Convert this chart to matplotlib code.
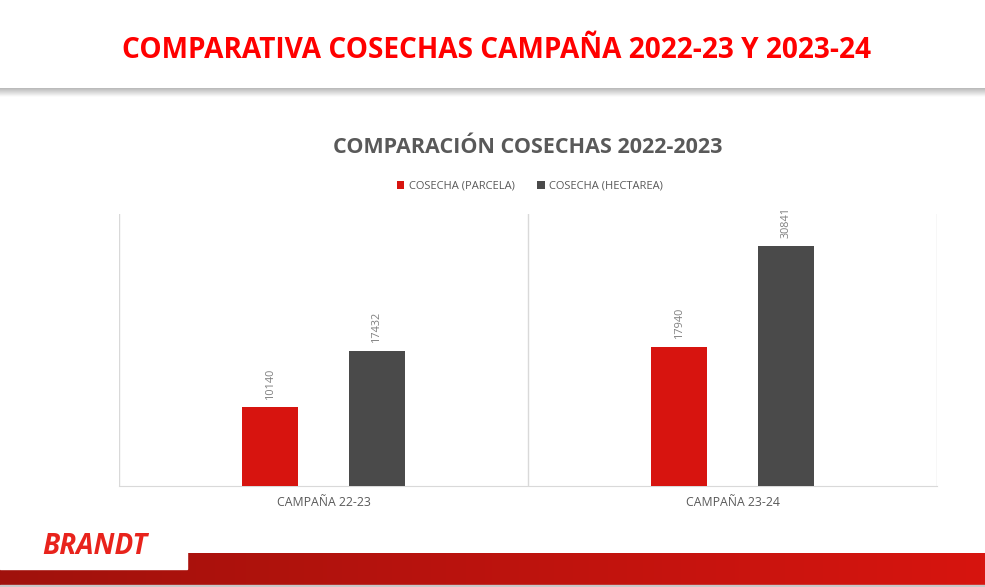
"""
Comparativa de cosechas por campaña (barras agrupadas)
"""
import numpy as np
import matplotlib.pyplot as plt
from matplotlib import font_manager

plt.rcParams["font.family"] = ["Open Sans", "DejaVu Sans"]

# datos
campanas = ["CAMPAÑA 22-23", "CAMPAÑA 23-24"]
series = ["COSECHA (PARCELA)", "COSECHA (HECTAREA)"]
cosecha_parcela = [10140, 17940]
cosecha_hectarea = [17432, 30841]

titulo_slide = "COMPARATIVA COSECHAS CAMPAÑA 2022-23 Y 2023-24"
titulo_grafico = "COMPARACIÓN COSECHAS 2022-2023"

ROJO = "#d7140f"
GRIS = "#4a4a4a"
TEXTO = "#595959"

names = {f.name for f in font_manager.fontManager.ttflist}
narrow = "Liberation Sans Narrow" if "Liberation Sans Narrow" in names else "Open Sans"


def draw_chart():
    fig = plt.figure(figsize=(9.85, 5.87), dpi=100)

    # fondo de la diapositiva (cabecera con sombra y franja inferior)
    bg = fig.add_axes([0, 0, 1, 1], zorder=-5)
    bg.set_xlim(0, 985)
    bg.set_ylim(587, 0)
    bg.axis("off")
    shadow = np.linspace(0.72, 1.0, 50).reshape(-1, 1)
    bg.imshow(shadow, cmap="gray", vmin=0, vmax=1, aspect="auto",
              extent=(0, 985, 97, 88))
    grad = np.linspace(0, 1, 256).reshape(1, -1)
    cmap_red = plt.matplotlib.colors.LinearSegmentedColormap.from_list(
        "franja", ["#a0110c", "#d7150f"])
    bg.imshow(grad, cmap=cmap_red, aspect="auto", extent=(0, 985, 585, 553))
    bg.add_patch(plt.Rectangle((0, 540), 187, 29, color="white", zorder=3))
    bg.add_patch(plt.Rectangle((0, 585), 985, 2, color="#c8c8c8", zorder=3))
    bg.text(95, 547, "BRANDT", color="#e8231c", fontsize=20, fontweight="bold",
            style="italic", ha="center", va="center", zorder=4,
            family=[narrow, "DejaVu Sans"])
    bg.text(497, 50, titulo_slide, color="#ff0000", fontsize=20.2,
            fontweight="bold", ha="center", va="center",
            family=[narrow, "DejaVu Sans"])

    # gráfico de barras
    ax = fig.add_axes([0.1208, 0.1721, 0.8305, 0.4633])
    x = np.arange(len(campanas))
    off = 0.13
    w = 0.137
    b1 = ax.bar(x - off, cosecha_parcela, w, color=ROJO, label=series[0], zorder=3)
    b2 = ax.bar(x + off, cosecha_hectarea, w, color=GRIS, label=series[1], zorder=3)
    for bars in (b1, b2):
        ax.bar_label(bars, rotation=90, padding=6, fontsize=7.8, color="#7f7f7f")

    ax.set_xlim(-0.5, 1.5)
    ax.set_ylim(0, 35000)
    ax.set_xticks(x)
    ax.set_xticklabels(campanas, fontsize=8.8, color=TEXTO)
    ax.set_xticks([-0.5, 0.5, 1.5], minor=True)
    ax.tick_params(axis="x", which="both", length=0, pad=7)
    ax.set_yticks([])
    ax.grid(axis="x", which="minor", color="#d9d9d9", linewidth=1)
    for s in ("top", "left", "right"):
        ax.spines[s].set_visible(False)
    ax.spines["bottom"].set_color("#d9d9d9")

    fig.text(0.536, 0.748, titulo_grafico, ha="center", va="center",
             fontsize=15.5, fontweight="bold", color=TEXTO)
    fig.legend(loc="center", bbox_to_anchor=(0.538, 0.683), ncol=2,
               frameon=False, fontsize=8, handlelength=0.7, handleheight=0.7,
               columnspacing=2.0, handletextpad=0.4, labelcolor=TEXTO)

    fig.savefig("out.png", dpi=100)


def main():
    draw_chart()


if __name__ == "__main__":
    main()
